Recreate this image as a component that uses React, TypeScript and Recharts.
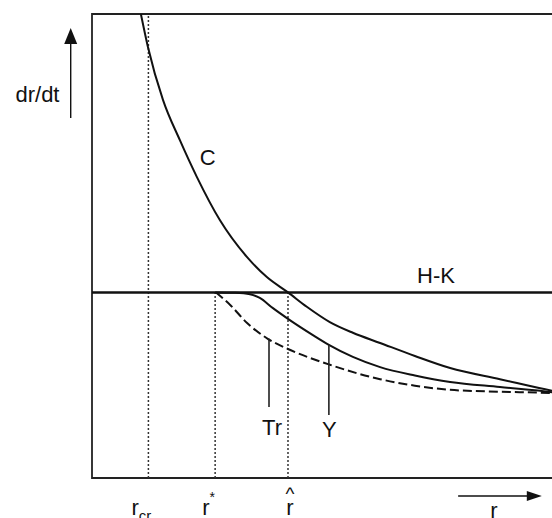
import React from 'react';
import {
  ComposedChart,
  Line,
  XAxis,
  YAxis,
  ReferenceLine,
  ReferenceArea,
  ReferenceDot,
} from 'recharts';

// Landmarks on the r axis and the constant H-K growth rate
const R_CR = 12;
const R_STAR = 26.2;
const R_HAT = 41.7;
const HK_RATE = 40;

// Curve C
const cR = [10.4, 11.9, 15.1, 18.7, 22.3, 27.2, 33.0, 37.2, 41.7, 45.7, 50.6, 55.5, 61.3, 68.7, 76.2, 86.8, 97.9, 100];
const cRate = [100, 92.9, 81.5, 72.8, 64.9, 55.6, 47.6, 43.3, 40, 36.9, 33.6, 31.3, 29.1, 26.3, 23.7, 21.3, 18.8, 18.4];

// Curve Y (solid)
const yR = [26.2, 30.4, 33.6, 35.7, 38.5, 41.7, 47.0, 50.4, 55.5, 61.3, 68.7, 76.2, 86.8, 97.9, 100];
const yRate = [40, 39.9, 39.6, 38.8, 36.6, 34.3, 30.8, 28.7, 26.1, 23.9, 22.1, 20.7, 19.6, 18.5, 18.2];

// Curve Tr (dashed)
const trR = [26.4, 29.4, 33.0, 37.4, 41.7, 50.6, 61.3, 68.7, 76.2, 86.8, 97.9, 100];
const trRate = [40, 37.3, 33.4, 30.0, 27.8, 24.4, 21.3, 19.9, 19.0, 18.6, 18.3, 18.2];

// H-K line end points
const hkR = [0, 100];

// Axis ticks and their labels
const tickValues = [R_CR, R_STAR, R_HAT];
const tickMain = ['r', 'r', 'r'];
const tickSub = ['cr', '', ''];
const tickSup = ['', '*', ''];
const tickHat = ['', '', '^'];

// Curve names and axis titles
const curveNames = ['C', 'H-K', 'Tr', 'Y'];
const axisTitles = ['dr/dt', 'r'];

const zip = (xs: number[], ys: number[]) => xs.map((r, i) => ({ r, rate: ys[i] }));
const cData = zip(cR, cRate);
const yData = zip(yR, yRate);
const trData = zip(trR, trRate);
const hkData = hkR.map((r) => ({ r, rate: HK_RATE }));

const FONT = '"Liberation Sans", Arial, Helvetica, sans-serif';
const INK = '#111';

// Placement of the curve names (same order as curveNames)
const namePos = [
  { x: 24.6, y: 67.5 },
  { x: 73.2, y: 42.0 },
  { x: 38.3, y: 9.3 },
  { x: 50.5, y: 8.8 },
];
// Leader lines from the Tr and Y names up to their curves
const leaders = [
  { x: 37.66, y1: 30.0, y2: 15.3 },
  { x: 50.4, y1: 28.7, y2: 13.6 },
];
// Axis arrows and titles
const rArrow = { x1: 77.9, x2: 93.3, tip: 95.7, y: -3.88 };
const rateArrow = { x: -4.53, y1: 77.6, y2: 94.2, tip: 97.0 };
const titlePos = [
  { x: -11.6, y: 81.1 },
  { x: 85.5, y: -8.6 },
];

const textShape = (value: string, size = 22) => (p: any) => (
  <text
    x={p.cx}
    y={p.cy}
    textAnchor="middle"
    fontFamily={FONT}
    fontSize={size}
    fill={INK}
  >
    {value}
  </text>
);

const RTick = (p: any) => {
  const i = tickValues.indexOf(p.payload.value);
  if (i < 0) return null;
  const base = p.y + 37;
  if (tickSub[i]) {
    return (
      <text x={p.x - 17} y={base} fontFamily={FONT} fontSize={22} fill={INK}>
        <tspan>{tickMain[i]}</tspan>
        <tspan fontSize={15} dy={6}>
          {tickSub[i]}
        </tspan>
      </text>
    );
  }
  if (tickSup[i]) {
    return (
      <text x={p.x - 13} y={base} fontFamily={FONT} fontSize={22} fill={INK}>
        <tspan>{tickMain[i]}</tspan>
        <tspan fontSize={14} dy={-13}>
          {tickSup[i]}
        </tspan>
      </text>
    );
  }
  return (
    <g>
      <text x={p.x + 2} y={base - 15} textAnchor="middle" fontFamily={FONT} fontSize={19} fill={INK}>
        {tickHat[i]}
      </text>
      <text x={p.x + 2} y={base} textAnchor="middle" fontFamily={FONT} fontSize={22} fill={INK}>
        {tickMain[i]}
      </text>
    </g>
  );
};

export default function App() {
  return (
    <div style={{ position: 'absolute', left: 0, top: 0, width: 552, height: 518, overflow: 'hidden', background: '#fff' }}>
      <ComposedChart width={570} height={518} margin={{ top: 14, right: 8, bottom: 0, left: 92 }}>
        <XAxis
          type="number"
          dataKey="r"
          domain={[0, 100]}
          ticks={tickValues}
          interval={0}
          allowDataOverflow
          axisLine={false}
          tickLine={false}
          tickSize={0}
          tickMargin={0}
          height={40}
          tick={(p: any) => <RTick {...p} />}
        />
        <YAxis type="number" dataKey="rate" domain={[0, 100]} hide allowDataOverflow />

        {/* frame */}
        <ReferenceArea x1={0} x2={100} y1={0} y2={100} fill="none" stroke="#222" strokeWidth={1.8} ifOverflow="visible" />

        {/* dotted guides at r_cr, r* and r-hat */}
        <ReferenceLine segment={[{ x: R_CR, y: 0 }, { x: R_CR, y: 100 }]} stroke="#333" strokeWidth={1.5} strokeDasharray="2 2" />
        <ReferenceLine segment={[{ x: R_STAR, y: 0 }, { x: R_STAR, y: HK_RATE }]} stroke="#333" strokeWidth={1.5} strokeDasharray="2 2" />
        <ReferenceLine segment={[{ x: R_HAT, y: 0 }, { x: R_HAT, y: HK_RATE }]} stroke="#333" strokeWidth={1.5} strokeDasharray="2 2" />

        <Line data={hkData} dataKey="rate" type="linear" stroke={INK} strokeWidth={2.5} dot={false} activeDot={false} isAnimationActive={false} />
        <Line data={cData} dataKey="rate" type="monotone" stroke={INK} strokeWidth={2} dot={false} activeDot={false} isAnimationActive={false} />
        <Line data={yData} dataKey="rate" type="monotone" stroke={INK} strokeWidth={2} dot={false} activeDot={false} isAnimationActive={false} />
        <Line data={trData} dataKey="rate" type="monotone" stroke={INK} strokeWidth={2} strokeDasharray="9 4" dot={false} activeDot={false} isAnimationActive={false} />

        {/* leader lines */}
        {leaders.map((l, i) => (
          <ReferenceLine key={'ld' + i} segment={[{ x: l.x, y: l.y1 }, { x: l.x, y: l.y2 }]} stroke="#222" strokeWidth={1.6} ifOverflow="visible" />
        ))}

        {/* curve names */}
        {curveNames.map((n, i) => (
          <ReferenceDot key={'nm' + i} x={namePos[i].x} y={namePos[i].y} r={0} ifOverflow="visible" shape={textShape(n)} />
        ))}

        {/* axis arrows */}
        <ReferenceLine segment={[{ x: rArrow.x1, y: rArrow.y }, { x: rArrow.x2, y: rArrow.y }]} stroke={INK} strokeWidth={1.4} ifOverflow="visible" />
        <ReferenceDot
          x={rArrow.tip}
          y={rArrow.y}
          r={0}
          ifOverflow="visible"
          shape={(p: any) => (
            <polygon points={`${p.cx},${p.cy} ${p.cx - 15},${p.cy - 5} ${p.cx - 15},${p.cy + 5}`} fill={INK} />
          )}
        />
        <ReferenceLine segment={[{ x: rateArrow.x, y: rateArrow.y1 }, { x: rateArrow.x, y: rateArrow.y2 }]} stroke={INK} strokeWidth={1.4} ifOverflow="visible" />
        <ReferenceDot
          x={rateArrow.x}
          y={rateArrow.tip}
          r={0}
          ifOverflow="visible"
          shape={(p: any) => (
            <polygon points={`${p.cx},${p.cy} ${p.cx - 6.5},${p.cy + 16} ${p.cx + 6.5},${p.cy + 16}`} fill={INK} />
          )}
        />

        {/* axis titles */}
        {axisTitles.map((t, i) => (
          <ReferenceDot key={'tt' + i} x={titlePos[i].x} y={titlePos[i].y} r={0} ifOverflow="visible" shape={textShape(t)} />
        ))}
      </ComposedChart>
    </div>
  );
}
